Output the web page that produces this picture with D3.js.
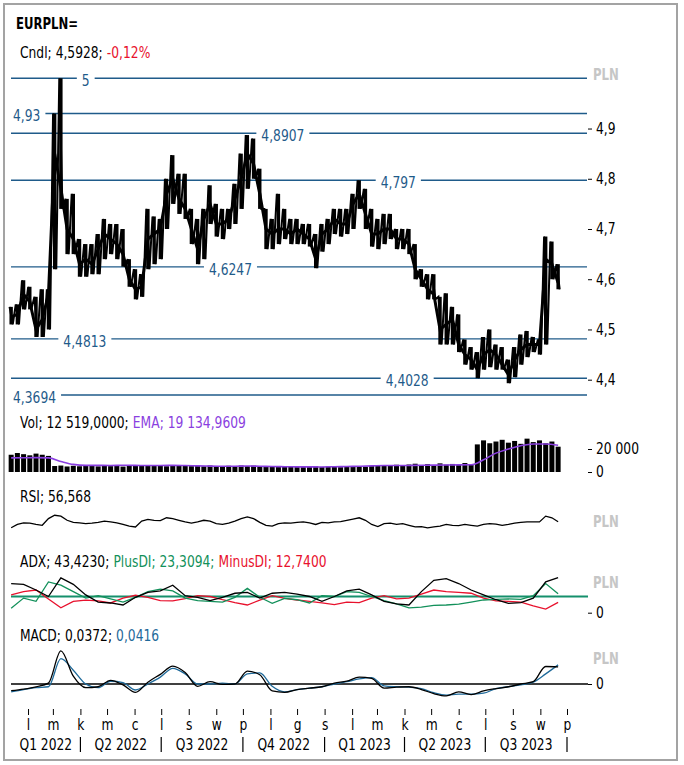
<!DOCTYPE html>
<html><head><meta charset="utf-8">
<script src="https://cdn.jsdelivr.net/npm/d3@7"></script>
<style>
html,body{margin:0;padding:0;background:#fff;}
svg text{font-family:"DejaVu Sans",Verdana,sans-serif;font-size:15px;white-space:pre;}
</style></head><body>
<svg id="chart" width="684" height="765"></svg>
<script>
// ---------- DATA ----------
const startDate = "2022-01-13";            // first weekly point
const highs = [4.545,4.55,4.598,4.585,4.565,4.58,4.58,4.93,5.0,4.76,4.77,4.68,4.67,4.67,4.69,4.72,4.71,4.71,4.70,4.64,4.62,4.61,4.74,4.725,4.72,4.80,4.847,4.81,4.81,4.74,4.72,4.74,4.787,4.75,4.74,4.74,4.79,4.85,4.887,4.88,4.82,4.74,4.72,4.77,4.74,4.72,4.72,4.71,4.71,4.69,4.71,4.72,4.74,4.74,4.74,4.77,4.797,4.78,4.74,4.72,4.73,4.73,4.70,4.70,4.70,4.67,4.62,4.61,4.61,4.565,4.572,4.545,4.53,4.48,4.465,4.455,4.485,4.50,4.47,4.465,4.44,4.465,4.49,4.497,4.485,4.48,4.685,4.675,4.63];
const lows = [4.51,4.51,4.54,4.54,4.485,4.485,4.50,4.62,4.74,4.65,4.65,4.605,4.605,4.61,4.61,4.64,4.65,4.64,4.625,4.585,4.56,4.565,4.62,4.63,4.64,4.70,4.75,4.73,4.72,4.67,4.63,4.64,4.71,4.685,4.68,4.70,4.71,4.74,4.78,4.80,4.74,4.66,4.66,4.67,4.68,4.67,4.67,4.67,4.665,4.622,4.655,4.67,4.69,4.685,4.69,4.70,4.74,4.70,4.665,4.66,4.67,4.68,4.66,4.66,4.65,4.60,4.585,4.56,4.56,4.47,4.47,4.47,4.455,4.43,4.42,4.403,4.42,4.425,4.42,4.42,4.393,4.405,4.43,4.445,4.455,4.45,4.47,4.60,4.58];
const closes = [4.525,4.53,4.57,4.555,4.50,4.52,4.57,4.85,4.78,4.70,4.68,4.63,4.64,4.63,4.66,4.69,4.68,4.67,4.65,4.60,4.58,4.585,4.68,4.69,4.70,4.77,4.80,4.76,4.74,4.70,4.66,4.72,4.75,4.71,4.71,4.72,4.76,4.80,4.85,4.83,4.77,4.70,4.69,4.70,4.70,4.69,4.70,4.69,4.68,4.64,4.69,4.70,4.72,4.71,4.71,4.75,4.77,4.73,4.69,4.69,4.70,4.70,4.68,4.68,4.67,4.62,4.60,4.58,4.57,4.50,4.51,4.52,4.47,4.45,4.44,4.42,4.45,4.46,4.45,4.43,4.41,4.44,4.46,4.47,4.47,4.47,4.64,4.63,4.5928];
const volumes = [15000,16500,15500,14500,16000,15000,14000,
  5200,5600,4800,5400,5000,5800,5300,4900,5600,5100,5500,4700,5300,5800,
  5400,6000,5200,5600,5000,5700,5300,5900,5100,5500,4900,5600,5200,5000,5400,4800,5600,5100,5500,5000,
  4600,5000,4400,4800,4500,5100,4300,4700,4900,4400,4800,4600,4200,4900,4500,5000,4600,5200,5400,6000,
  5800,6300,5600,6500,7200,6000,6800,5900,7500,6400,7000,6200,7800,6600,
  24000,27500,25000,26500,28000,25500,27000,24500,29000,26000,27500,25000,26500,22000];
const rsi = [42,50,54,53,50,48,64,72,70,60,55,54,52,53,55,58,56,54,50,46,44,58,62,60,59,66,64,60,56,53,56,60,58,52,50,53,58,64,68,64,55,48,46,52,54,53,55,56,54,50,55,54,56,57,60,63,66,60,50,45,52,53,50,52,48,44,45,42,44,46,50,48,47,50,48,46,50,52,51,48,50,53,55,56,56,56,70,66,56.57];
// biweekly indicator series
const volEma = [12300,12400,12500,12300,9200,6600,5800,5800,5700,5900,5800,5600,5700,5800,5600,5300,5100,5000,5000,5200,5000,4800,4600,4500,4500,4400,4600,4800,5000,5300,5600,5600,5700,5900,6000,6100,6200,6300,10600,16400,20000,22900,24400,24400,23200];
const adx = [36,35,28,20,43,35,22,13,12,9.5,19,25,27,34,21,19,15,19,24,25,18,24,25,23,20,14,20,27,29,22,14,11,9.5,26,40,42,36,28,22,16,11.5,12.4,18,38,43.42];
const plusDI = [5.4,18,14,38,34,26,18,21,17,13,19,26,29,27,18,15,14,13,19,30,19,11.5,17.7,16,12,21,20,26,25,20,15,11,6,7,9,9.5,10.5,13,15.7,16.5,17,16.5,21,36,23.31];
const minusDI = [22,26,28,17,6,14,15.5,14.5,12,18,21.5,19,15,14.5,17.5,21,20,16,12.5,9.5,15.5,21,17.7,15.7,14,12,10,13,12.5,18,21,17,18,23,28,26,25,24,18,14.5,14,13,8.5,4.5,12.74];
const macd = [-0.0145,-0.011,-0.006,0.002,0.072,0.017,-0.008,-0.006,0.008,-0.002,-0.018,0.004,0.021,0.039,0.025,-0.005,0.005,-0.001,0.0,0.028,0.02,-0.015,-0.018,-0.012,-0.009,-0.006,0.002,0.006,0.015,0.012,-0.009,-0.007,-0.006,-0.012,-0.021,-0.026,-0.017,-0.023,-0.015,-0.010,-0.006,0,0.005,0.038,0.0372];
const macdSignal = [-0.017,-0.012,-0.008,-0.006,0.055,0.03,0.0,-0.008,0.006,0.003,-0.013,0.0,0.015,0.034,0.022,0.0,0.0,0.002,0.0,0.022,0.024,-0.005,-0.017,-0.012,-0.009,-0.006,0.0,0.005,0.011,0.014,-0.004,-0.006,-0.007,-0.01,-0.019,-0.024,-0.022,-0.022,-0.02,-0.01,-0.006,-0.002,0.004,0.022,0.0416];

const levels = [5, 4.93, 4.8907, 4.797, 4.6247, 4.4813, 4.4028, 4.3694];
const levelLabels = ["5","4,93","4,8907","4,797","4,6247","4,4813","4,4028","4,3694"];
const levelLabelDates = ["2022-04-07","2022-01-14","2022-11-15","2023-03-25","2022-09-17","2022-04-06","2023-04-04","2022-01-14"];
const levelLabelAnchors = ["middle","start","middle","middle","middle","middle","middle","start"];
const priceTicks = [4.4,4.5,4.6,4.7,4.8,4.9];
const volTicks = [0,20000];
const monthLabels = ["l","m","k","m","c","l","s","w","p","l","g","s","l","m","k","m","c","l","s","w","p"];
const quarterLabels = ["Q1 2022","Q2 2022","Q3 2022","Q4 2022","Q1 2023","Q2 2023","Q3 2023"];
const titleCndl = ["Cndl; 4,5928;","-0,12%"];
const titleVol = ["Vol; 12 519,0000;","EMA; 19 134,9609"];
const titleRsi = ["RSI; 56,568"];
const titleAdx = ["ADX; 43,4230;","PlusDI; 23,3094;","MinusDI; 12,7400"];
const titleMacd = ["MACD; 0,0372;","0,0416"];

// ---------- SETUP ----------
const svg = d3.select("#chart");
const parse = d3.timeParse("%Y-%m-%d");
const t0 = parse(startDate);
const dates = closes.map((_, i) => d3.timeDay.offset(t0, 7 * i));
const dates2 = adx.map((_, i) => d3.timeDay.offset(t0, 14 * i));
const loc = d3.formatLocale({decimal: ",", thousands: " ", grouping: [3], currency: ["", ""]});

const C = {level: "#1f5b8a", red: "#e8112d", purple: "#8a3fe0", green: "#12905a", lvlGreen: "#15906c", blue: "#1f6a9a", pln: "#c6c6c6"};
const XL = 11, XR = 588, SX = 0.82;

const x = d3.scaleTime().domain([new Date(2022, 0, 1), new Date(2023, 9, 1)]).range([0.5, 567]);
const yP = d3.scaleLinear().domain([4.4, 5]).range([379.7, 78.3]);
const yV = d3.scaleLinear().domain([0, 20000]).range([472, 449]);
const yR = d3.scaleLinear().domain([0, 100]).range([545.3, 503.6]);
const yA = d3.scaleLinear().domain([0, 20]).range([612.7, 596.5]);
const yM = d3.scaleLinear().domain([0, 0.05]).range([684, 661]);

// narrow the (Verdana-like) font horizontally, the reference uses a Tahoma-like face
function sq(sel, f) {
  const k = f || SX;
  sel.each(function () {
    const t = d3.select(this);
    const tx = +t.attr("x") || 0, ty = +t.attr("y") || 0;
    t.attr("x", 0).attr("y", 0).attr("transform", `translate(${tx},${ty}) scale(${k},1)`);
  });
  return sel;
}

// frame
svg.append("rect").attr("x", 4).attr("y", 4).attr("width", 673).attr("height", 756)
  .attr("fill", "none").attr("stroke", "#a3a3a3").attr("stroke-width", 2);

// titles: each coloured part is its own text, placed after the previous one
sq(svg.append("text").attr("x", 16).attr("y", 29.3).attr("font-weight", "bold").text("EURPLN="), 0.78);
function title(parts, colors, yb) {
  let cx = 20;
  parts.forEach((p, i) => {
    const t = svg.append("text").attr("x", cx).attr("y", yb).attr("fill", colors[i]).text(p);
    const w = t.node().getComputedTextLength();
    sq(t);
    cx += w * SX + 4;
  });
}
title(titleCndl, ["#000", C.red], 58.3);
title(titleVol, ["#000", C.purple], 428.3);
title(titleRsi, ["#000"], 502);
title(titleAdx, ["#000", C.green, C.red], 567.3);
title(titleMacd, ["#000", C.blue], 640.5);

// PLN labels
[80, 526.7, 588, 664].forEach(yb => sq(svg.append("text").attr("x", 593).attr("y", yb)
  .attr("font-weight", "bold").attr("fill", C.pln).text("PLN"), 0.78));

// ---------- MAIN PRICE PANEL ----------
const gL = svg.append("g");
levels.forEach((lv) => {
  gL.append("line").attr("x1", XL).attr("x2", XR - 1).attr("y1", yP(lv)).attr("y2", yP(lv))
    .attr("stroke", C.level).attr("stroke-width", 1.4);
});
levels.forEach((lv, i) => {
  const g = gL.append("g");
  const r = g.append("rect").attr("fill", "#fff");
  const t = g.append("text").attr("x", x(parse(levelLabelDates[i])) + (levelLabelAnchors[i] === "start" ? 1 : 0))
    .attr("y", yP(lv) + 8).attr("text-anchor", levelLabelAnchors[i]).attr("fill", C.level).text(levelLabels[i]);
  sq(t);
  const b = t.node().getBoundingClientRect();
  const s = svg.node().getBoundingClientRect();
  r.attr("x", b.left - s.left - 5).attr("y", yP(lv) - 3).attr("width", b.width + 10).attr("height", 6);
});

const gP = svg.append("g");
gP.selectAll("line.hl").data(closes).join("line").attr("class", "hl")
  .attr("x1", (d, i) => x(dates[i])).attr("x2", (d, i) => x(dates[i]))
  .attr("y1", (d, i) => yP(highs[i])).attr("y2", (d, i) => yP(lows[i]))
  .attr("stroke", "#000").attr("stroke-width", 3.4);
const zig = [];
closes.forEach((c, i) => {
  zig.push([x(dates[i]) - 1.6, yP(highs[i])]);
  zig.push([x(dates[i]) + 1.6, yP(lows[i])]);
});
gP.append("path").attr("d", d3.line()(zig)).attr("fill", "none").attr("stroke", "#000").attr("stroke-width", 2);
gP.append("path").attr("d", d3.line().x((d, i) => x(dates[i])).y(d => yP(d))(closes))
  .attr("fill", "none").attr("stroke", "#000").attr("stroke-width", 3);

function rightAxis(scale, vals, f) {
  const g = svg.append("g").attr("transform", `translate(${XR},0)`)
    .call(d3.axisRight(scale).tickValues(vals).tickFormat(f).tickSize(4).tickPadding(4));
  g.select(".domain").remove();
  g.selectAll("line").attr("stroke", "#000");
  g.selectAll("text").attr("font-family", null).attr("font-size", null).attr("fill", "#000");
  sq(g.selectAll("text"));
}
rightAxis(yP, priceTicks, loc.format(".1f"));

// ---------- VOLUME ----------
svg.append("g").selectAll("rect").data(volumes).join("rect")
  .attr("x", (d, i) => x(dates[i]) - 2.5).attr("width", 5)
  .attr("y", d => yV(d)).attr("height", d => yV(0) - yV(d)).attr("fill", "#000");
svg.append("path").attr("d", d3.line().curve(d3.curveMonotoneX).x((d, i) => x(dates2[i])).y(d => yV(d))(volEma))
  .attr("fill", "none").attr("stroke", C.purple).attr("stroke-width", 1.6);
rightAxis(yV, volTicks, loc.format(",.0f"));

// ---------- RSI ----------
svg.append("path").attr("d", d3.line().x((d, i) => x(dates[i])).y(d => yR(d))(rsi))
  .attr("fill", "none").attr("stroke", "#000").attr("stroke-width", 1.3);

// ---------- ADX ----------
svg.append("line").attr("x1", XL).attr("x2", XR).attr("y1", yA(20)).attr("y2", yA(20))
  .attr("stroke", C.lvlGreen).attr("stroke-width", 2.2);
[[minusDI, C.red], [plusDI, C.green], [adx, "#000"]].forEach(([s, col]) => {
  svg.append("path").attr("d", d3.line().x((d, i) => x(dates2[i])).y(d => yA(d))(s))
    .attr("fill", "none").attr("stroke", col).attr("stroke-width", 1.3);
});
rightAxis(yA, [0], loc.format(".0f"));

// ---------- MACD ----------
svg.append("line").attr("x1", XL).attr("x2", XR).attr("y1", yM(0)).attr("y2", yM(0))
  .attr("stroke", "#000").attr("stroke-width", 1.5);
[[macdSignal, C.blue], [macd, "#000"]].forEach(([s, col]) => {
  svg.append("path").attr("d", d3.line().curve(d3.curveMonotoneX).x((d, i) => x(dates2[i])).y(d => yM(d))(s))
    .attr("fill", "none").attr("stroke", col).attr("stroke-width", 1.3);
});
rightAxis(yM, [0], loc.format(".0f"));

// ---------- TIME AXIS ----------
const months = d3.timeMonth.range(new Date(2022, 1, 1), new Date(2023, 9, 2));
const gx = svg.append("g").attr("transform", "translate(0,709)")
  .call(d3.axisBottom(x).tickValues(months).tickSize(6).tickFormat((d, i) => monthLabels[i]));
gx.select(".domain").remove();
gx.selectAll("line").attr("stroke", "#000");
gx.selectAll("text").attr("font-family", null).attr("font-size", null).attr("fill", "#000").attr("y", 21).attr("dy", 0);
sq(gx.selectAll("text"));

const qStarts = d3.timeMonth.every(3).range(new Date(2022, 0, 1), new Date(2023, 9, 2));
svg.append("g").selectAll("line").data(qStarts.slice(1)).join("line")
  .attr("x1", d => x(d)).attr("x2", d => x(d)).attr("y1", 737).attr("y2", 752)
  .attr("stroke", "#000").attr("stroke-width", 1.2);
const qText = svg.append("g").selectAll("text").data(quarterLabels).join("text")
  .attr("x", (d, i) => {
    const a = Math.max(x(qStarts[i]), x(dates[0]));
    const b = x(d3.timeMonth.offset(qStarts[i], 3));
    return (a + b) / 2;
  })
  .attr("y", 750).attr("text-anchor", "middle").text(d => d);
sq(qText);
</script>
</body></html>
